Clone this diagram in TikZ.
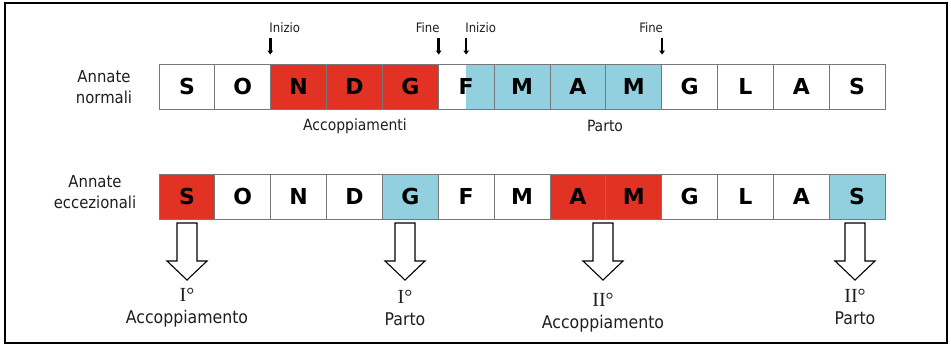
\documentclass[tikz,border=0pt]{standalone}
\usepackage{fontspec}
\setmainfont{DejaVu Sans}
\newfontfamily\cellfont{DejaVu Sans}
\newfontfamily\labfont{DejaVu Sans Condensed}
\newfontfamily\romfont{Liberation Serif}
\usetikzlibrary{arrows.meta,calc}
\definecolor{matred}{RGB}{226,50,36}
\definecolor{birthblue}{RGB}{146,208,224}
\definecolor{cellgray}{RGB}{120,120,120}
\definecolor{labgray}{RGB}{30,30,30}
\tikzset{
  month/.style={draw=cellgray, line width=0.9pt, minimum width=55.85pt, minimum height=45pt,
    inner sep=0pt, font=\cellfont\bfseries\fontsize{22}{22}\selectfont, text=black},
  rowlab/.style={align=center, font=\labfont\fontsize{16.5}{21}\selectfont, text=labgray},
  periodlab/.style={font=\labfont\fontsize{15.5}{16}\selectfont, text=labgray},
  marklab/.style={font=\labfont\fontsize{13}{13}\selectfont, text=labgray, inner sep=0pt},
  tick/.style={line width=2.6pt, -{Triangle[length=4pt,width=5.5pt]}},
  eventlab/.style={align=center, font=\labfont\fontsize{17.5}{22}\selectfont, text=labgray},
  hollow/.style={draw=black, fill=white, line width=1.1pt, line join=miter}
}
% ordinal numerals set in a serif face
\newcommand{\ordnum}[1]{{\romfont\fontsize{20}{20}\selectfont #1}}
\begin{document}
\begin{tikzpicture}[x=1pt,y=-1pt]
  \useasboundingbox (0,0) rectangle (951,346);
  % outer frame
  \draw[line width=1.3pt] (5,3) rectangle (947,343);

  % month rows
  \foreach \m [count=\i] in {S,O,N,D,G,F,M,A,M,G,L,A,S} {
    \pgfmathsetmacro{\cx}{159+(\i-0.5)*55.85}
    \node[month] (t\i) at (\cx,86.5) {};
    \node[month] (b\i) at (\cx,196.5) {};
  }
  % normal years: mating N-D-G, birthing from mid F to M
  \foreach \i in {3,4,5} \fill[matred] (t\i.north west) rectangle (t\i.south east);
  \foreach \i in {7,8,9} \fill[birthblue] (t\i.north west) rectangle (t\i.south east);
  \fill[birthblue] (t6.north) rectangle (t6.south east);
  % exceptional years
  \foreach \i in {1,8,9} \fill[matred] (b\i.north west) rectangle (b\i.south east);
  \foreach \i in {5,13} \fill[birthblue] (b\i.north west) rectangle (b\i.south east);

  \foreach \m [count=\i] in {S,O,N,D,G,F,M,A,M,G,L,A,S} {
    \node[month] at (t\i) {\m};
    \node[month] at (b\i) {\m};
  }

  % row labels
  \node[rowlab] (rn) at (104,87) {Annate\\normali};
  \node[rowlab] (re) at (95,192) {Annate\\eccezionali};

  % period labels
  \node[periodlab] (acc) at (355,126) {Accoppiamenti};
  \node[periodlab] (par) at (605,126) {Parto};

  % start / end markers
  \coordinate (i1) at ($(t3.north west)+(0,-26)$);
  \coordinate (f1) at ($(t5.north east)+(0,-26)$);
  \coordinate (i2) at ($(t6.north)+(0,-26)$);
  \coordinate (f2) at ($(t9.north east)+(0,-26)$);
  \foreach \c in {i1,f1,i2,f2} \draw[tick] (\c) -- ++(0,17);
  \node[marklab, anchor=south west] at ($(i1)+(-1,-5)$) {Inizio};
  \node[marklab, anchor=south east] at ($(f1)+(1,-5)$) {Fine};
  \node[marklab, anchor=south west] at ($(i2)+(-1,-5)$) {Inizio};
  \node[marklab, anchor=south east] at ($(f2)+(1,-5)$) {Fine};

  % hollow arrows under the exceptional year
  \foreach \name/\x in {a1/187, a2/405, a3/603, a4/855} {
    \coordinate (\name) at (\x,223);
    \draw[hollow] ($(\name)+(-10,0)$) -- ($(\name)+(10,0)$) -- ($(\name)+(10,38)$)
      -- ($(\name)+(20,38)$) -- ($(\name)+(0,57)$) -- ($(\name)+(-20,38)$)
      -- ($(\name)+(-10,38)$) -- cycle;
  }

  % event labels
  \node[eventlab] (e1) at (187,308) {\ordnum{I°}\\Accoppiamento};
  \node[eventlab] (e2) at (405,308) {\ordnum{I°}\\Parto};
  \node[eventlab] (e3) at (603,313) {\ordnum{II°}\\Accoppiamento};
  \node[eventlab] (e4) at (855,307) {\ordnum{II°}\\Parto};
\end{tikzpicture}
\end{document}
